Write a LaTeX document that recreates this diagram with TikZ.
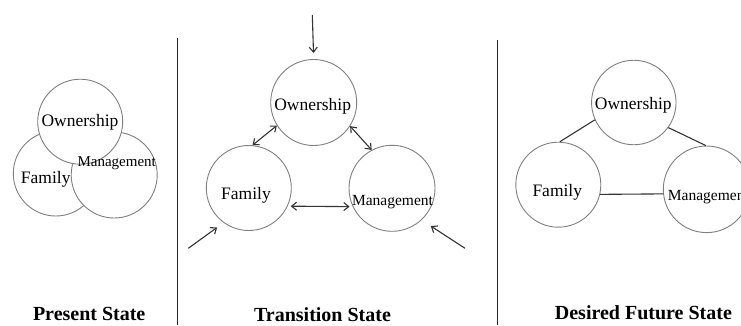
\documentclass[tikz,border=0pt]{standalone}
\usepackage{fontspec}
\setmainfont{Liberation Serif}
\usetikzlibrary{arrows.meta}
\begin{document}
\begin{tikzpicture}[x=1pt,y=1pt,
  bubble/.style={circle,draw=black!50,line width=0.9pt,fill=white,inner sep=0pt,minimum size=85pt},
  word/.style={inner sep=0pt,anchor=base,font=\fontsize{17.5}{20}\selectfont},
  smallword/.style={inner sep=0pt,anchor=base,font=\fontsize{15.5}{18}\selectfont},
  title/.style={inner sep=0pt,anchor=base,font=\fontsize{20}{24}\selectfont\bfseries},
  divider/.style={line width=1.6pt,black!85},
  link/.style={line width=1.1pt,black!80},
  twoway/.style={link,{Straight Barb[length=5pt,width=8pt]}-{Straight Barb[length=5pt,width=8pt]}},
  oneway/.style={link,-{Straight Barb[length=5pt,width=8pt]}}]
\clip (0,0) rectangle (741,-325);

% dividers between the three states
\coordinate (d1top) at (177.3,-38.3);
\coordinate (d1bot) at (177.3,-325);
\coordinate (d2top) at (497.3,-40);
\coordinate (d2bot) at (497.3,-325);
\draw[divider] (d1top) -- (d1bot);
\draw[divider] (d2top) -- (d2bot);

% present state: overlapping circles
\node[bubble,minimum size=85pt] (pF) at (55.8,-173.5) {};
\node[bubble,minimum size=86pt] (pM) at (114.2,-175) {};
\node[bubble,minimum size=85pt] (pO) at (80.2,-121.7) {};
\node[word] (pOt) at (80,-126.7) {Ownership};
\node[word] (pFt) at (45.7,-183.3) {Family};
\node[smallword,font=\fontsize{15}{18}\selectfont] (pMt) at (116.7,-166) {Management};

% transition state: separate circles with two-way arrows
\node[bubble,minimum size=86pt] (tO) at (313.7,-102.5) {};
\node[bubble,minimum size=85pt] (tF) at (248.8,-188) {};
\node[bubble,minimum size=86pt] (tM) at (392,-188.3) {};
\node[word] (tOt) at (312.7,-110) {Ownership};
\node[word] (tFt) at (246,-199) {Family};
\node[smallword] (tMt) at (392.5,-205) {Management};

\draw[twoway] (tO.212.4) -- (tF.85.4);
\draw[twoway] (tO.-33.4) -- (tM.118);
\draw[twoway,shorten <=3pt,shorten >=3pt] (tF.-25) -- (tM.205);

\coordinate (inO) at (312.3,-15);
\coordinate (inF) at (188.3,-248.3);
\coordinate (inM) at (465,-248.3);
\draw[oneway,shorten >=6pt] (inO) -- (tO.north);
\draw[oneway,shorten >=8pt] (inF) -- (tF.234.5);
\draw[oneway,shorten >=11pt] (inM) -- (tM.-47.8);

% desired future state: circles joined by plain lines
\node[bubble,minimum size=84.5pt] (fO) at (633.8,-102.5) {};
\node[bubble,minimum size=85pt] (fF) at (558.3,-184.7) {};
\node[bubble,minimum size=86.6pt] (fM) at (706.6,-189.3) {};
\node[word] (fOt) at (633.3,-109.3) {Ownership};
\node[word] (fFt) at (557.3,-196) {Family};
\node[smallword,anchor=base west] (fMt) at (667.7,-200) {Management};

\draw[link] (fO.204.2) -- (fF.88);
\draw[link] (fO.-36) -- (fM.91);
\draw[link] (fF.-13) -- (fM.186);

% state titles
\node[title] (t1) at (89.2,-320) {Present State};
\node[title] (t2) at (322.5,-321.7) {Transition State};
\node[title] (t3) at (643.4,-319) {Desired Future State};
\end{tikzpicture}
\end{document}
